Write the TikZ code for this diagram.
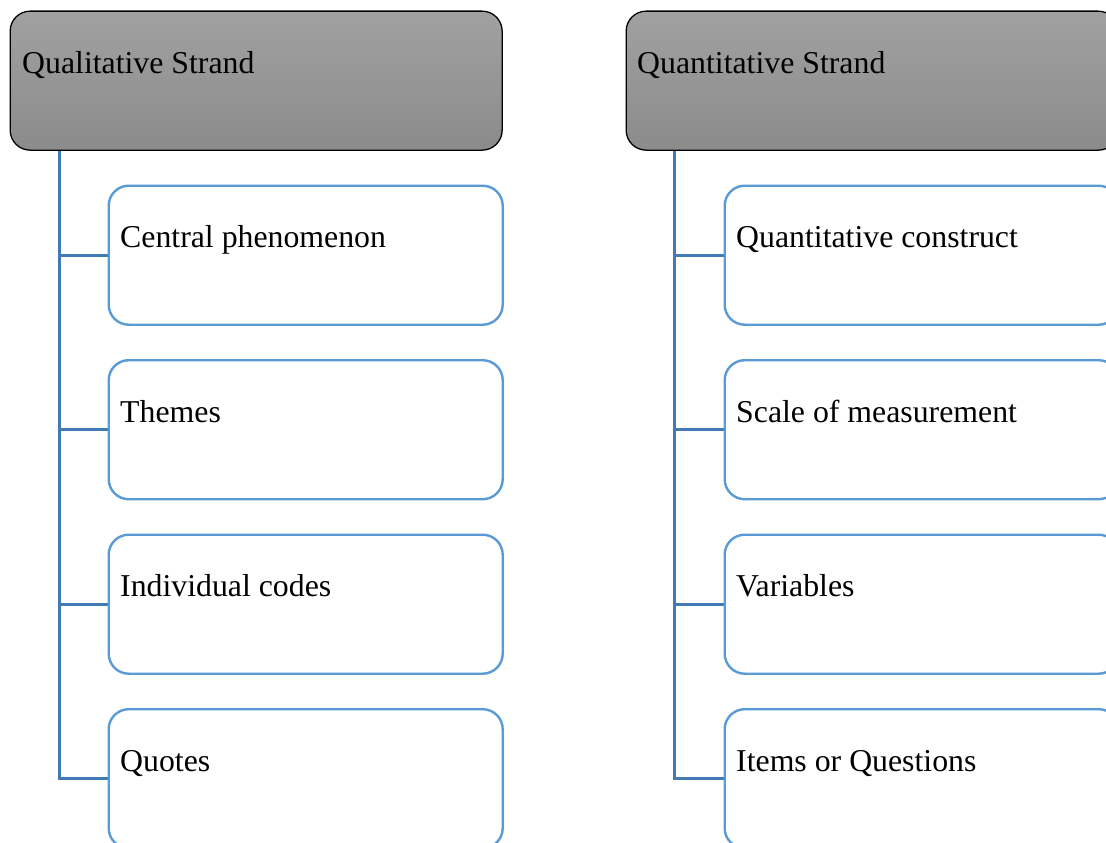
\documentclass[tikz,border=0pt]{standalone}
\usepackage{fontspec}
\setmainfont{Liberation Serif}
\definecolor{hdtop}{RGB}{161,161,161}
\definecolor{hdbot}{RGB}{139,139,139}
\definecolor{boxblue}{RGB}{91,155,213}
\definecolor{linkblue}{RGB}{65,122,180}
\begin{document}
\begin{tikzpicture}[x=1pt,y=-1pt,
  header/.style={draw=black,line width=1.3pt,rounded corners=20pt,top color=hdtop,bottom color=hdbot,
    minimum width=492pt,minimum height=139pt,anchor=north west,inner sep=0pt},
  child/.style={draw=boxblue,line width=2.4pt,rounded corners=20pt,fill=white,
    minimum width=394pt,minimum height=139pt,anchor=north west,inner sep=0pt},
  lbl/.style={anchor=base west,inner sep=0pt,font=\fontsize{31.8pt}{36pt}\selectfont},
  link/.style={draw=linkblue,line width=2.8pt}]
\useasboundingbox (0,0) rectangle (1106,843);
% left column
\node[header] (h1) at (9.5,10.5) {};
\node[lbl] (h1t) at (22,74) {Qualitative Strand};
\foreach \i/\y/\t in {1/184.5/Central phenomenon,2/359/Themes,3/533.5/Individual codes,4/708/Quotes}{
  \node[child] (a\i) at (107.5,\y) {};
  \node[lbl] (a\i t) at (120,\y+63) {\t};
}
\coordinate (l1) at (59.5,0);
\draw[link] (h1.south -| l1) |- (a4.west);
\foreach \i in {1,2,3}{ \draw[link] (a\i.west -| l1) -- (a\i.west); }
% right column
\node[header] (h2) at (625.5,10.5) {};
\node[lbl] (h2t) at (637,74) {Quantitative Strand};
\foreach \i/\y/\t in {1/184.5/Quantitative construct,2/359/Scale of measurement,3/533.5/Variables,4/708/Items or Questions}{
  \node[child] (b\i) at (723.5,\y) {};
  \node[lbl] (b\i t) at (736,\y+63) {\t};
}
\coordinate (l2) at (674.5,0);
\draw[link] (h2.south -| l2) |- (b4.west);
\foreach \i in {1,2,3}{ \draw[link] (b\i.west -| l2) -- (b\i.west); }
\end{tikzpicture}
\end{document}
